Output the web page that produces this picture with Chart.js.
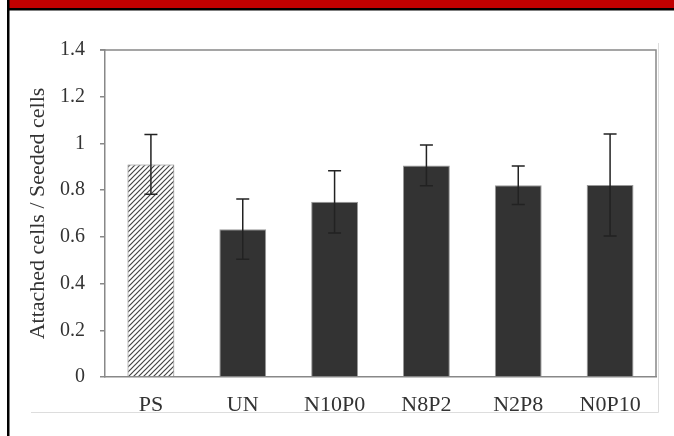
<!DOCTYPE html>
<html>
<head>
<meta charset="utf-8">
<script src="https://cdn.jsdelivr.net/npm/chart.js@4.4.1/dist/chart.umd.min.js"></script>
<style>
  html, body { margin: 0; padding: 0; background: #fff; }
  #wrap { position: relative; width: 674px; height: 436px; }
  canvas { position: absolute; left: 0; top: 0; }
</style>
</head>
<body>
<div id="wrap"><canvas id="chart" width="674" height="436"></canvas></div>
<script>
// data
const categories = ["PS", "UN", "N10P0", "N8P2", "N2P8", "N0P10"];
const means = [0.91, 0.633, 0.75, 0.906, 0.821, 0.822];
const errors = [0.128, 0.129, 0.133, 0.087, 0.082, 0.218];
const yMin = 0;
const yMax = 1.4;
const yStep = 0.1;
const yTitle = "Attached cells / Seeded cells";

const FONT = "'Liberation Serif', 'DejaVu Serif', serif";

// hatch fill for the PS bar
function makeHatch() {
    const c = document.createElement("canvas");
    c.width = 5;
    c.height = 5;
    const g = c.getContext("2d");
    g.fillStyle = "#fff";
    g.fillRect(0, 0, 5, 5);
    g.strokeStyle = "#444";
    g.lineWidth = 1.2;
    g.beginPath();
    g.moveTo(-1, 6); g.lineTo(6, -1);
    g.moveTo(-1, 1); g.lineTo(1, -1);
    g.moveTo(4, 6); g.lineTo(6, 4);
    g.stroke();
    return g.createPattern(c, "repeat");
}

const hatch = makeHatch();
const barColors = categories.map((c, i) => i === 0 ? hatch : "#333");
const barBorders = categories.map((c, i) => i === 0 ? "#777" : "#999");

// page frame: red band, black rules, light box under the labels
const framePlugin = {
    id: "frame",
    beforeDraw(chart) {
        const ctx = chart.ctx;
        ctx.save();
        ctx.fillStyle = "#fff";
        ctx.fillRect(0, 0, chart.width, chart.height);
        ctx.fillStyle = "#c00000";
        ctx.fillRect(9, 0, chart.width - 9, 8);
        ctx.fillStyle = "#000";
        ctx.fillRect(7, 8, chart.width - 7, 2.5);
        ctx.fillRect(7, 0, 2.5, chart.height);

        ctx.strokeStyle = "#ddd";
        ctx.lineWidth = 1;
        ctx.beginPath();
        ctx.moveTo(31, 412.5);
        ctx.lineTo(658.5, 412.5);
        ctx.moveTo(658.5, 43);
        ctx.lineTo(658.5, 412.5);
        ctx.stroke();
        ctx.restore();
    },
    afterDraw(chart) {
        const a = chart.chartArea;
        const ctx = chart.ctx;
        ctx.save();
        ctx.strokeStyle = "#888";
        ctx.lineWidth = 1.5;
        ctx.beginPath();
        ctx.moveTo(a.left - 5, a.top);
        ctx.lineTo(a.right, a.top);
        ctx.lineTo(a.right, a.bottom);
        ctx.stroke();
        ctx.restore();
    }
};

const errorBarPlugin = {
    id: "errorBars",
    afterDatasetsDraw(chart) {
        const ctx = chart.ctx;
        const y = chart.scales.y;
        const meta = chart.getDatasetMeta(0);
        ctx.save();
        ctx.strokeStyle = "#222";
        ctx.lineWidth = 1.5;
        meta.data.forEach((bar, i) => {
            const top = y.getPixelForValue(means[i] + errors[i]);
            const bot = y.getPixelForValue(means[i] - errors[i]);
            const x = bar.x;
            ctx.beginPath();
            ctx.moveTo(x, top);
            ctx.lineTo(x, bot);
            ctx.moveTo(x - 6.5, top);
            ctx.lineTo(x + 6.5, top);
            ctx.moveTo(x - 6.5, bot);
            ctx.lineTo(x + 6.5, bot);
            ctx.stroke();
        });
        ctx.restore();
    }
};

new Chart(document.getElementById("chart"), {
    type: "bar",
    data: {
        labels: categories,
        datasets: [{
            data: means,
            backgroundColor: barColors,
            borderColor: barBorders,
            borderWidth: 1,
            barPercentage: 0.51,
            categoryPercentage: 1
        }]
    },
    options: {
        responsive: false,
        animation: false,
        devicePixelRatio: 1,
        layout: { padding: { left: 0, top: 50, right: 18, bottom: 0 } },
        plugins: {
            legend: { display: false },
            tooltip: { enabled: false }
        },
        scales: {
            x: {
                afterFit: s => { s.height = 59; },
                grid: { display: false },
                border: { color: "#888", width: 1.5 },
                ticks: {
                    color: "#333",
                    padding: 7,
                    font: { family: FONT, size: 22 }
                }
            },
            y: {
                min: yMin,
                max: yMax,
                afterFit: s => { s.width = 105; },
                border: { color: "#888", width: 1.5 },
                grid: {
                    drawOnChartArea: false,
                    tickLength: 5,
                    color: "#888",
                    lineWidth: 1.5
                },
                ticks: {
                    stepSize: yStep,
                    color: "#333",
                    padding: 15,
                    font: { family: FONT, size: 20 },
                    callback: v => {
                        const k = Math.round(v * 10);
                        return k % 2 === 0 ? String(k / 10) : "";
                    }
                },
                title: {
                    display: true,
                    text: yTitle,
                    color: "#333",
                    font: { family: FONT, size: 22 },
                    padding: { top: 25, bottom: 0 }
                }
            }
        }
    },
    plugins: [framePlugin, errorBarPlugin]
});
</script>
</body>
</html>
